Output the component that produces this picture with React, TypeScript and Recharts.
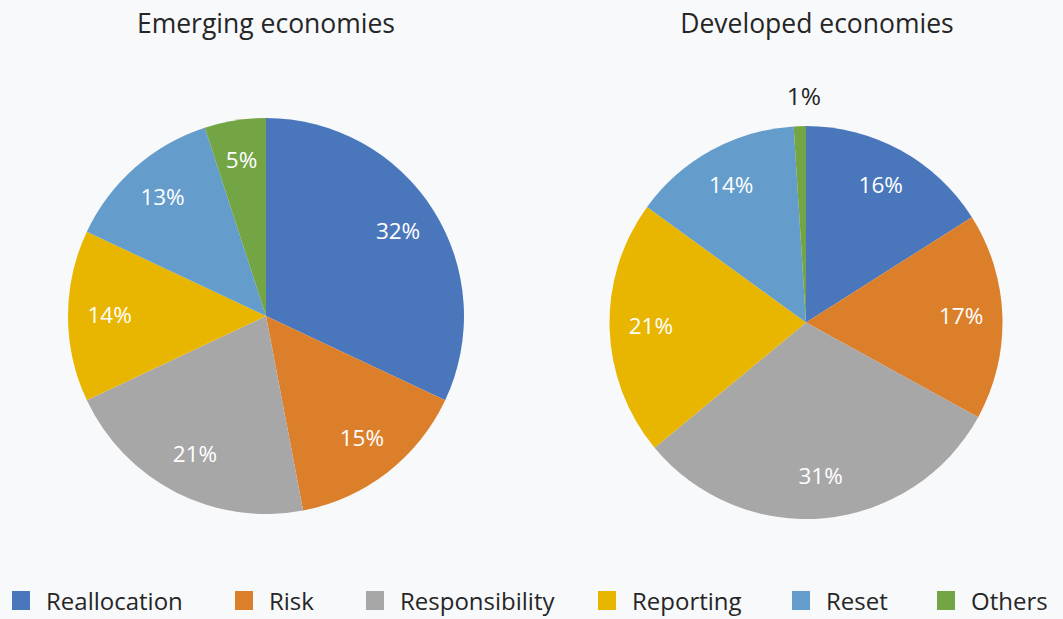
import { PieChart, Pie, Cell } from 'recharts'

const categories = ['Reallocation', 'Risk', 'Responsibility', 'Reporting', 'Reset', 'Others']
const colors = ['#4a77bc', '#dc7f2a', '#a8a7a8', '#e8b600', '#649dcb', '#73a545']
const emergingValues = [32, 15, 21, 14, 13, 5]
const developedValues = [16, 17, 31, 21, 14, 1]
const titles = ['Emerging economies', 'Developed economies']

const emergingData = categories.map((name, i) => ({ name, value: emergingValues[i] }))
const developedData = categories.map((name, i) => ({ name, value: developedValues[i] }))

const FONT = '"Open Sans", "Noto Sans", sans-serif'
const RAD = Math.PI / 180

function renderLabel(props: any) {
  const { cx, cy, midAngle, outerRadius, value } = props
  const outside = value < 3
  const r = outside ? outerRadius + 29 : outerRadius * 0.79
  const x = cx + r * Math.cos(-midAngle * RAD) + (outside ? 5 : 0)
  const y = cy + r * Math.sin(-midAngle * RAD) - 2
  return (
    <text
      x={x}
      y={y}
      fill={outside ? '#262626' : '#ffffff'}
      textAnchor="middle"
      dominantBaseline="central"
      fontSize={outside ? 24.5 : 22.5}
      fontFamily={FONT}
    >
      {`${value}%`}
    </text>
  )
}

export default function App() {
  const lefts = [12, 235, 366, 598, 792, 937]
  return (
    <div
      style={{
        position: 'absolute',
        left: 0,
        top: 0,
        width: 1063,
        height: 619,
        background: '#f8f9fb',
        fontFamily: FONT,
        color: '#262626',
      }}
    >
      <div style={{ position: 'absolute', left: 66, top: 5, width: 400, textAlign: 'center', fontSize: 26.5 }}>
        {titles[0]}
      </div>
      <div style={{ position: 'absolute', left: 627, top: 5, width: 380, textAlign: 'center', fontSize: 26.5 }}>
        {titles[1]}
      </div>

      <PieChart
        width={1063}
        height={619}
        margin={{ top: 0, right: 0, bottom: 0, left: 0 }}
        style={{ position: 'absolute', left: 0, top: 0 }}
      >
        <Pie
          data={emergingData}
          dataKey="value"
          nameKey="name"
          cx={266}
          cy={316}
          outerRadius={198}
          startAngle={90}
          endAngle={-270}
          stroke="none"
          labelLine={false}
          label={renderLabel}
          isAnimationActive={false}
        >
          {emergingData.map((d, i) => (
            <Cell key={d.name} fill={colors[i]} />
          ))}
        </Pie>
        <Pie
          data={developedData}
          dataKey="value"
          nameKey="name"
          cx={806}
          cy={322.5}
          outerRadius={196.5}
          startAngle={90}
          endAngle={-270}
          stroke="none"
          labelLine={false}
          label={renderLabel}
          isAnimationActive={false}
        >
          {developedData.map((d, i) => (
            <Cell key={d.name} fill={colors[i]} />
          ))}
        </Pie>
      </PieChart>

      {categories.map((c, i) => (
        <div
          key={c}
          style={{ position: 'absolute', left: lefts[i], top: 584, display: 'flex', alignItems: 'center', fontSize: 24 }}
        >
          <span style={{ width: 18, height: 19, background: colors[i], display: 'inline-block', marginRight: 16 }} />
          <span>{c}</span>
        </div>
      ))}
    </div>
  )
}
